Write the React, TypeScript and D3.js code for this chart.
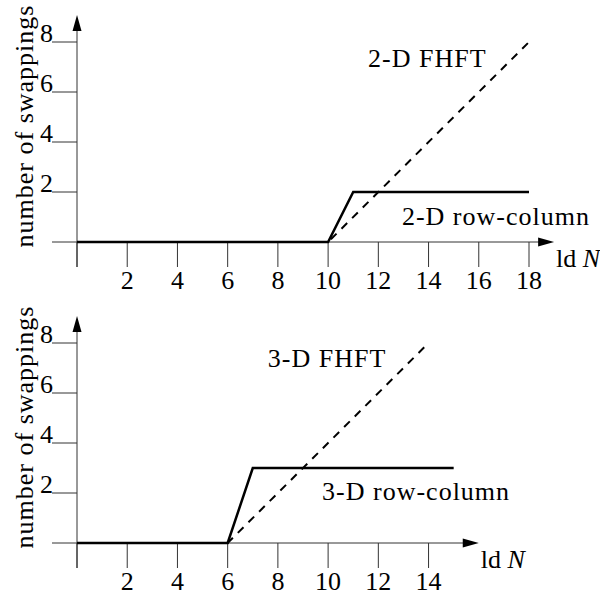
import { useEffect, useRef } from 'react'
import * as d3 from 'd3'

// top panel: 2-D
const fhft2dX = [0, 10, 18]
const fhft2dY = [0, 0, 8]
const rc2dX = [0, 10, 11, 18]
const rc2dY = [0, 0, 2, 2]
const xTicks2d = [0, 2, 4, 6, 8, 10, 12, 14, 16, 18]

// bottom panel: 3-D
const fhft3dX = [0, 6, 14]
const fhft3dY = [0, 0, 8]
const rc3dX = [0, 6, 7, 15]
const rc3dY = [0, 0, 3, 3]
const xTicks3d = [0, 2, 4, 6, 8, 10, 12, 14]

const yTicks = [2, 4, 6, 8]

const panels = [
  {
    top: 242, xMax: 19, xTicks: xTicks2d,
    fhft: { xs: fhft2dX, ys: fhft2dY, label: '2-D FHFT', lx: 11.59, ly: 7.0 },
    rc: { xs: rc2dX, ys: rc2dY, label: '2-D row-column', lx: 12.94, ly: 0.68 },
  },
  {
    top: 543, xMax: 16, xTicks: xTicks3d,
    fhft: { xs: fhft3dX, ys: fhft3dY, label: '3-D FHFT', lx: 7.6, ly: 7.04 },
    rc: { xs: rc3dX, ys: rc3dY, label: '3-D row-column', lx: 9.76, ly: 1.72 },
  },
]

const FONT = '"Liberation Serif", "Times New Roman", serif'

export default function App() {
  const svgRef = useRef<SVGSVGElement>(null)

  useEffect(() => {
    const width = 600, height = 596
    const svg = d3.select(svgRef.current)
    svg.selectAll('*').remove()
    svg.attr('width', width).attr('height', height).style('background', '#fff')

    const x = d3.scaleLinear().domain([0, 18]).range([77, 529])
    const axisColor = '#333'

    panels.forEach(p => {
      const y = d3.scaleLinear().domain([0, 8]).range([p.top, p.top - 200])
      const g = svg.append('g')
        .style('font-family', FONT)
        .style('font-size', '26px')

      // x axis line + arrow
      const tipX = x(p.xMax)
      g.append('line')
        .attr('x1', 52).attr('x2', tipX - 10)
        .attr('y1', y(0)).attr('y2', y(0))
        .attr('stroke', axisColor).attr('stroke-width', 1)
      g.append('path')
        .attr('d', `M${tipX},${y(0)} L${tipX - 16},${y(0) - 4.5} L${tipX - 16},${y(0) + 4.5} Z`)
        .attr('fill', '#000')

      // y axis line + arrow
      const tipY = p.top - 227
      g.append('line')
        .attr('x1', x(0)).attr('x2', x(0))
        .attr('y1', y(0) + 25).attr('y2', tipY + 10)
        .attr('stroke', axisColor).attr('stroke-width', 1)
      g.append('path')
        .attr('d', `M${x(0)},${tipY} L${x(0) - 4.5},${tipY + 16} L${x(0) + 4.5},${tipY + 16} Z`)
        .attr('fill', '#000')

      // x ticks
      p.xTicks.forEach(t => {
        g.append('line')
          .attr('x1', x(t)).attr('x2', x(t))
          .attr('y1', y(0)).attr('y2', y(0) + 25)
          .attr('stroke', axisColor).attr('stroke-width', 1)
        if (t > 0) {
          g.append('text')
            .attr('x', x(t)).attr('y', y(0) + 47)
            .attr('text-anchor', 'middle')
            .text(t)
        }
      })

      // y ticks
      yTicks.forEach(t => {
        g.append('line')
          .attr('x1', 52).attr('x2', x(0))
          .attr('y1', y(t)).attr('y2', y(t))
          .attr('stroke', axisColor).attr('stroke-width', 1)
        g.append('text')
          .attr('x', 53).attr('y', y(t))
          .attr('text-anchor', 'end')
          .text(t)
      })

      // y label
      g.append('text')
        .attr('transform', `translate(33, ${p.top - 116}) rotate(-90)`)
        .attr('text-anchor', 'middle')
        .style('letter-spacing', '1px')
        .text('number of swappings')

      // x label
      const ld = g.append('text')
        .attr('x', tipX + 2).attr('y', y(0) + 25)
      ld.append('tspan').text('ld ')
      ld.append('tspan').attr('font-style', 'italic').text('N')

      const line = d3.line<number>()
        .x(d => x(d))

      // FHFT dashed
      const fy = p.fhft.ys
      g.append('path')
        .attr('d', line.y((_, i) => y(fy[i]))(p.fhft.xs))
        .attr('fill', 'none').attr('stroke', '#000')
        .attr('stroke-width', 2).attr('stroke-dasharray', '8 7')

      // row-column solid
      const ry = p.rc.ys
      g.append('path')
        .attr('d', line.y((_, i) => y(ry[i]))(p.rc.xs))
        .attr('fill', 'none').attr('stroke', '#000')
        .attr('stroke-width', 2.5).attr('stroke-linejoin', 'miter')

      // series labels
      ;[p.fhft, p.rc].forEach(s => {
        g.append('text')
          .attr('x', x(s.lx)).attr('y', y(s.ly))
          .style('letter-spacing', '1px')
          .text(s.label)
      })
    })
  }, [])

  return (
    <div style={{ position: 'absolute', left: 0, top: 0 }}>
      <svg ref={svgRef} />
    </div>
  )
}
